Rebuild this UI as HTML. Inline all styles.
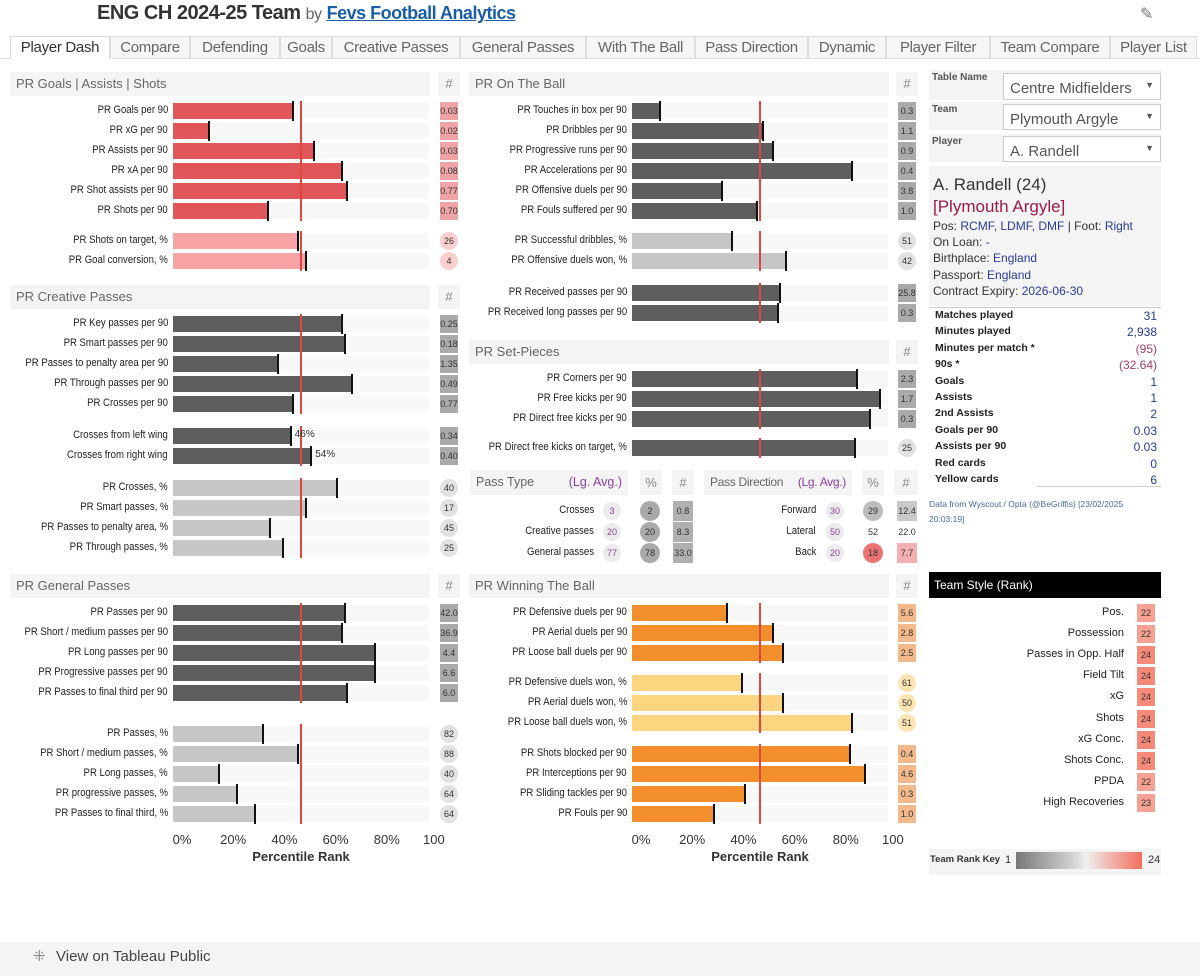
<!DOCTYPE html>
<html><head><meta charset="utf-8">
<style>
body{margin:0;width:1200px;height:976px;background:#fff;font-family:"Liberation Sans Narrow","Liberation Sans",sans-serif;position:relative;overflow:hidden;color:#333}
.a{position:absolute;box-sizing:border-box}
.hdr{background:#f4f4f4;color:#666;font-size:13px;line-height:24px;padding-left:6px}
.tab{position:absolute;top:36px;height:23px;border:1px solid #ddd;background:#f6f6f6;color:#666;font-size:15px;line-height:22px;text-align:center;box-sizing:border-box;letter-spacing:-0.3px}
.lbl{position:absolute;font-size:11px;text-align:right;white-space:nowrap;color:#222;transform:scaleX(0.87);transform-origin:right center}
.num{position:absolute;font-size:9px;text-align:center;color:#333;line-height:18px}
.st{position:absolute;left:935px;width:222px;font-size:10.5px;font-weight:bold;color:#222}
.st span{position:absolute;right:0;font-weight:normal;color:#2a3a9a;font-size:12px}
.ts{position:absolute;right:76px;font-size:11px;text-align:right;color:#222}
.tsb{position:absolute;left:1137px;width:18px;height:18px;background:#f5988a;font-size:9px;text-align:center;line-height:18px}
</style></head><body>
<div class="a" style="left:97px;top:2px;font-size:20px;font-weight:bold;color:#333;letter-spacing:-0.5px">ENG CH 2024-25 Team <span style="font-weight:normal;font-size:16px;color:#666">by</span> <span style="color:#1a5ea8;text-decoration:underline;font-size:18px">Fevs Football Analytics</span></div>
<div class="a" style="left:1140px;top:4px;font-size:16px;color:#777">✎</div>
<div class="a" style="left:0;top:58px;width:1200px;height:1px;background:#ddd"></div>
<div id="tabs"></div>
<div id="chart"></div>

<!-- right panel -->
<div class="a" style="left:929px;top:70px;width:232px;height:30px;background:#f4f4f4"><div style="position:absolute;left:3px;top:2px;font-size:10px;font-weight:bold;color:#555">Table Name</div><div style="position:absolute;left:74px;top:3px;width:158px;height:27px;background:#fff;border:1px solid #ccc;font-size:15px;color:#555;padding:6px 0 0 6px;box-sizing:border-box">Centre Midfielders<span style="position:absolute;right:6px;top:6px;font-size:9px">▼</span></div></div>
<div class="a" style="left:929px;top:102px;width:232px;height:28px;background:#f4f4f4"><div style="position:absolute;left:3px;top:2px;font-size:10px;font-weight:bold;color:#555">Team</div><div style="position:absolute;left:74px;top:2px;width:158px;height:26px;background:#fff;border:1px solid #ccc;font-size:15px;color:#555;padding:6px 0 0 6px;box-sizing:border-box;overflow:hidden">Plymouth Argyle<span style="position:absolute;right:6px;top:6px;font-size:9px">▼</span></div></div>
<div class="a" style="left:929px;top:134px;width:232px;height:28px;background:#f4f4f4"><div style="position:absolute;left:3px;top:2px;font-size:10px;font-weight:bold;color:#555">Player</div><div style="position:absolute;left:74px;top:2px;width:158px;height:26px;background:#fff;border:1px solid #ccc;font-size:15px;color:#555;padding:6px 0 0 6px;box-sizing:border-box;overflow:hidden">A. Randell<span style="position:absolute;right:6px;top:6px;font-size:9px">▼</span></div></div>
<div class="a" style="left:929px;top:166px;width:232px;height:140px;background:#f4f4f4;padding:8px 0 0 4px;font-size:12px;line-height:16.2px;color:#333;font-family:'Liberation Sans',sans-serif">
<div style="font-size:17px;line-height:22px">A. Randell (24)</div>
<div style="font-size:17px;line-height:22px;color:#9b1b4a">[Plymouth Argyle]</div>
<div>Pos: <span style="color:#2a3a9a">RCMF, LDMF, DMF</span> | Foot: <span style="color:#2a3a9a">Right</span></div>
<div>On Loan: <span style="color:#2a3a9a">-</span></div>
<div>Birthplace: <span style="color:#2a3a9a">England</span></div>
<div>Passport: <span style="color:#2a3a9a">England</span></div>
<div>Contract Expiry: <span style="color:#2a3a9a">2026-06-30</span></div></div>
<div class="a" style="left:929px;top:307px;width:232px;height:1px;background:#ccc"></div>
<div id="stats"></div>
<div class="a" style="left:1037px;top:486px;width:124px;height:1px;background:#ccc"></div>
<div class="a" style="left:929px;top:497px;width:220px;font-size:8.5px;line-height:15px;color:#4a6aa0">Data from Wyscout / Opta (@BeGriffis) [23/02/2025 20:03:19]</div>
<div class="a" style="left:929px;top:572px;width:232px;height:26px;background:#000;color:#fff;font-size:12px;line-height:26px;padding-left:5px">Team Style (Rank)</div>
<div id="teamstyle"></div>
<div class="a" style="left:929px;top:849px;width:232px;height:26px;background:#f4f4f4">
<div style="position:absolute;left:1px;top:5px;font-size:9.5px;font-weight:bold">Team Rank Key</div>
<div style="position:absolute;left:76px;top:5px;font-size:11px">1</div>
<div style="position:absolute;left:87px;top:3px;width:126px;height:17px;background:linear-gradient(90deg,#777,#ddd 50%,#f0f0f0 55%,#f26f5e)"></div>
<div style="position:absolute;left:219px;top:5px;font-size:11px">24</div></div>
<div class="a" style="left:0;top:942px;width:1200px;height:34px;background:#f4f4f4;font-size:15px;color:#444;padding:6px 0 0 34px;font-family:'Liberation Sans',sans-serif">
<span style="position:absolute;left:33px;top:5px;color:#888">⁜</span><span style="margin-left:22px">View on Tableau Public</span></div>

<script>
// ---- data ----
const tabNames=["Player Dash","Compare","Defending","Goals","Creative Passes","General Passes","With The Ball","Pass Direction","Dynamic","Player Filter","Team Compare","Player List"];
const goalsLabels=["PR Goals per 90","PR xG per 90","PR Assists per 90","PR xA per 90","PR Shot assists per 90","PR Shots per 90"];
const goalsValues=[47,14,55,66,68,37];
const goalsNums=["0.03","0.02","0.03","0.08","0.77","0.70"];
const shotPctLabels=["PR Shots on target, %","PR Goal conversion, %"];
const shotPctValues=[49,52];
const shotPctNums=["26","4"];
const creativeLabels=["PR Key passes per 90","PR Smart passes per 90","PR Passes to penalty area per 90","PR Through passes per 90","PR Crosses per 90"];
const creativeValues=[66,67,41,70,47];
const creativeNums=["0.25","0.18","1.35","0.49","0.77"];
const wingLabels=["Crosses from left wing","Crosses from right wing"];
const wingValues=[46,54];
const wingNums=["0.34","0.40"];
const creativePctLabels=["PR Crosses, %","PR Smart passes, %","PR Passes to penalty area, %","PR Through passes, %"];
const creativePctValues=[64,52,38,43];
const creativePctNums=["40","17","45","25"];
const generalLabels=["PR Passes per 90","PR Short / medium passes per 90","PR Long passes per 90","PR Progressive passes per 90","PR Passes to final third per 90"];
const generalValues=[67,66,79,79,68];
const generalNums=["42.0","36.9","4.4","6.6","6.0"];
const generalPctLabels=["PR Passes, %","PR Short / medium passes, %","PR Long passes, %","PR progressive passes, %","PR Passes to final third, %"];
const generalPctValues=[35,49,18,25,32];
const generalPctNums=["82","88","40","64","64"];
const ballLabels=["PR Touches in box per 90","PR Dribbles per 90","PR Progressive runs per 90","PR Accelerations per 90","PR Offensive duels per 90","PR Fouls suffered per 90"];
const ballValues=[11,51,55,86,35,49];
const ballNums=["0.3","1.1","0.9","0.4","3.8","1.0"];
const ballPctLabels=["PR Successful dribbles, %","PR Offensive duels won, %"];
const ballPctValues=[39,60];
const ballPctNums=["51","42"];
const recLabels=["PR Received passes per 90","PR Received long passes per 90"];
const recValues=[58,57];
const recNums=["25.8","0.3"];
const setLabels=["PR Corners per 90","PR Free kicks per 90","PR Direct free kicks per 90"];
const setValues=[88,97,93];
const setNums=["2.3","1.7","0.3"];
const setPctLabels=["PR Direct free kicks on target, %"];
const setPctValues=[87];
const setPctNums=["25"];
const duelLabels=["PR Defensive duels per 90","PR Aerial duels per 90","PR Loose ball duels per 90"];
const duelValues=[37,55,59];
const duelNums=["5.6","2.8","2.5"];
const duelPctLabels=["PR Defensive duels won, %","PR Aerial duels won, %","PR Loose ball duels won, %"];
const duelPctValues=[43,59,86];
const duelPctNums=["61","50","51"];
const defLabels=["PR Shots blocked per 90","PR Interceptions per 90","PR Sliding tackles per 90","PR Fouls per 90"];
const defValues=[85,91,44,32];
const defNums=["0.4","4.6","0.3","1.0"];
const avgValue=50;
const tickValues=[0,20,40,60,80,100];
const passTypeLabels=["Crosses","Creative passes","General passes"];
const passTypeAvg=[3,20,77];
const passTypePct=[2,20,78];
const passTypeNums=["0.8","8.3","33.0"];
const passDirLabels=["Forward","Lateral","Back"];
const passDirAvg=[30,50,20];
const passDirPct=[29,52,18];
const passDirNums=["12.4","22.0","7.7"];
const statLabels=["Matches played","Minutes played","Minutes per match *","90s *","Goals","Assists","2nd Assists","Goals per 90","Assists per 90","Red cards","Yellow cards"];
const statValues=["31","2,938","(95)","(32.64)","1","1","2","0.03","0.03","0","6"];
const teamStyleLabels=["Pos.","Possession","Passes in Opp. Half","Field Tilt","xG","Shots","xG Conc.","Shots Conc.","PPDA","High Recoveries"];
const teamStyleRanks=[22,22,24,24,24,24,24,24,22,23];

const root=document.getElementById('chart');
function mk(parent,cls,css,txt){const e=document.createElement('div');e.className=cls;e.style.cssText=css;if(txt!==undefined)e.textContent=txt;parent.appendChild(e);return e;}

// tabs
const tabW=[100,80,90,52,128,126,109,113,78,104,120,87];
const tabs=document.getElementById('tabs');
let tx=10;
tabNames.forEach((n,i)=>{
  const t=mk(tabs,'tab','left:'+tx+'px;width:'+tabW[i]+'px;'+(i==0?'background:#fff;color:#333;border-bottom-color:#fff;':''),n);
  
  
  tx+=tabW[i];
});

const SCALE=2.56;
function xs(x0,v){return x0+v*SCALE;}

function header(x,y,w,title,nx){
  const h=mk(root,'a hdr','left:'+x+'px;top:'+y+'px;width:'+w+'px;height:24px',title);
  
  
  const n=mk(root,'a hdr','left:'+nx+'px;top:'+y+'px;width:22px;height:24px;padding:0;text-align:center;color:#888','#');
  
  
}

function group(x0,labelRight,numCx,y0,labels,values,nums,color,kind,numColor){
  const n=labels.length;
  values.forEach((v,i)=>{
    const cy=y0+i*20;
    const tr=mk(root,'a','left:'+x0+'px;top:'+(cy-8)+'px;width:'+(100*SCALE)+'px;height:16px;background:#f8f8f8');
    
    
    const b=mk(root,'a','left:'+x0+'px;top:'+(cy-8)+'px;width:'+(xs(x0,v)-x0)+'px;height:16px;background:'+color);
    
    
    const m=mk(root,'a','left:'+(xs(x0,v)-1)+'px;top:'+(cy-10)+'px;width:2px;height:20px;background:#111');
    
    
    const l=mk(root,'lbl','right:'+(1200-labelRight)+'px;top:'+(cy-7)+'px',labels[i]);
    
    
    const nb=mk(root,'num','left:'+(numCx-9)+'px;top:'+(cy-9)+'px;width:18px;height:18px;background:'+numColor+(kind=='circle'?';border-radius:50%':''),nums[i]);
    
    
  });
  const a=mk(root,'a','left:'+(xs(x0,avgValue)-1)+'px;top:'+(y0-10)+'px;width:2px;height:'+(n*20)+'px;background:#e0453f');
  
  
}

function wingPct(x0,y0,values){
  values.forEach((v,i)=>{
    const t=mk(root,'a','left:'+(xs(x0,v)+4)+'px;top:'+(y0+i*20-7)+'px;font-size:10px',v+'%');
    
    
  });
}

function axis(x0,title){
  tickValues.forEach(v=>{
    const t=mk(root,'a','left:'+(xs(x0,v)-6)+'px;top:832px;width:30px;text-align:center;font-size:13px;color:#333;overflow:hidden;'+(v==100?'width:22px;':''),v+'%');
    
    
  });
  const tt=mk(root,'a','left:'+(xs(x0,50)-55)+'px;top:849px;width:110px;text-align:center;font-size:13px;font-weight:bold',title);
  
  
}

const L=173, M=632;
const red='#e15759',lred='#f7a3a3',dg='#5e5e5e',lg='#c6c6c6',or='#f28e2b',lor='#fdd581';
header(10,72,420,'PR Goals | Assists | Shots',438);
group(L,168,449,111,goalsLabels,goalsValues,goalsNums,red,'box','#eea4a4');
group(L,168,449,241,shotPctLabels,shotPctValues,shotPctNums,lred,'circle','#f9cfcf');
header(10,285,420,'PR Creative Passes',438);
group(L,168,449,324,creativeLabels,creativeValues,creativeNums,dg,'box','#aaa');
group(L,168,449,436,wingLabels,wingValues,wingNums,dg,'box','#aaa');
wingPct(L,436,wingValues);
group(L,168,449,488,creativePctLabels,creativePctValues,creativePctNums,lg,'circle','#e2e2e2');
header(10,574,420,'PR General Passes',438);
group(L,168,449,613,generalLabels,generalValues,generalNums,dg,'box','#aaa');
group(L,168,449,734,generalPctLabels,generalPctValues,generalPctNums,lg,'circle','#e2e2e2');
axis(L,'Percentile Rank');

header(469,72,420,'PR On The Ball',896);
group(M,627,907,111,ballLabels,ballValues,ballNums,dg,'box','#aaa');
group(M,627,907,241,ballPctLabels,ballPctValues,ballPctNums,lg,'circle','#e2e2e2');
group(M,627,907,293,recLabels,recValues,recNums,dg,'box','#aaa');
header(469,340,420,'PR Set-Pieces',896);
group(M,627,907,379,setLabels,setValues,setNums,dg,'box','#aaa');
group(M,627,907,448,setPctLabels,setPctValues,setPctNums,dg,'circle','#e2e2e2');
header(469,574,420,'PR Winning The Ball',896);
group(M,627,907,613,duelLabels,duelValues,duelNums,or,'box','#f4b98a');
group(M,627,907,683,duelPctLabels,duelPctValues,duelPctNums,lor,'circle','#fde4b3');
group(M,627,907,754,defLabels,defValues,defNums,or,'box','#f4b98a');
axis(M,'Percentile Rank');

// pass type / direction tables
function smallHdr(x,w,txt,extra){
  const h=mk(root,'a hdr','left:'+x+'px;top:470px;width:'+w+'px;height:25px;line-height:25px;'+(extra||''));
  h.innerHTML=txt;
  
  
}
smallHdr(470,158,'Pass Type<span style="position:absolute;right:6px;color:#8b3fa0">(Lg. Avg.)</span>','font-size:12.5px');
smallHdr(640,22,'%','padding:0;text-align:center;color:#888');
smallHdr(672,22,'#','padding:0;text-align:center;color:#888');
smallHdr(704,148,'Pass Direction<span style="position:absolute;right:6px;color:#8b3fa0">(Lg. Avg.)</span>','font-size:12px;letter-spacing:-0.3px');
smallHdr(862,22,'%','padding:0;text-align:center;color:#888');
smallHdr(894,24,'#','padding:0;text-align:center;color:#888');
function passRows(labels,avg,pct,nums,lr,ac,pc,nc,pcColors,ncColors){
  labels.forEach((l,i)=>{
    const cy=511+i*21;
    const t=mk(root,'lbl','right:'+(1200-lr)+'px;top:'+(cy-7)+'px',l);
    
    
    const a=mk(root,'num','left:'+(ac-9)+'px;top:'+(cy-9)+'px;width:18px;height:18px;border-radius:50%;background:#ececec;color:#8b3fa0',avg[i]);
    
    
    const p=mk(root,'num','left:'+(pc-10)+'px;top:'+(cy-10)+'px;width:20px;height:20px;line-height:20px;border-radius:50%;background:'+pcColors[i],pct[i]);
    
    
    const n=mk(root,'num','left:'+(nc-10)+'px;top:'+(cy-10)+'px;width:20px;height:20px;line-height:20px;background:'+ncColors[i],nums[i]);
    
    
  });
}
passRows(passTypeLabels,passTypeAvg,passTypePct,passTypeNums,594,612,650,683,['#a9a9a9','#a9a9a9','#a9a9a9'],['#b0b0b0','#b0b0b0','#b0b0b0']);
passRows(passDirLabels,passDirAvg,passDirPct,passDirNums,816,835,873,907,['#bdbdbd','#fff','#ea7474'],['#c9c9c9','#fff','#f4b0b0']);

// stats
const st=document.getElementById('stats');
statLabels.forEach((l,i)=>{
  const r=mk(st,'st','top:'+(309+i*16.4)+'px',l);
  const s=document.createElement('span');s.textContent=statValues[i];
  if(i==2||i==3)s.style.color='#a0406e';
  r.appendChild(s);
  
  
});

// team style
const ts=document.getElementById('teamstyle');
teamStyleLabels.forEach((l,i)=>{
  const y=604+i*21.1;
  const t=mk(ts,'ts','top:'+(y+2)+'px',l);
  
  
  const b=mk(ts,'tsb','top:'+y+'px;background:'+(teamStyleRanks[i]>=24?'#f58a78':'#f6a292'),teamStyleRanks[i]);
  
  
});
</script>
</body></html>
